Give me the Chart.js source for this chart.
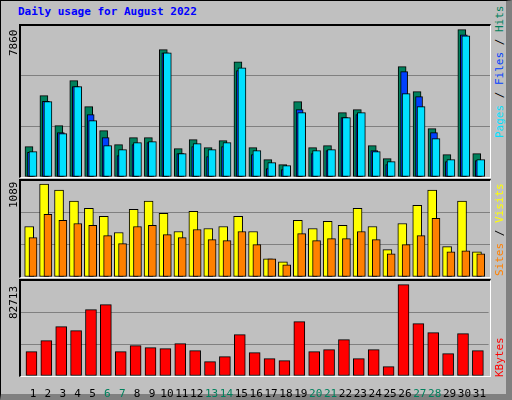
<!DOCTYPE html>
<html>
<head>
<meta charset="utf-8">
<script src="https://cdn.jsdelivr.net/npm/chart.js@4"></script>
<style>
  body { margin: 0; width: 512px; height: 400px; overflow: hidden; background: #c0c0c0; }
  #frame { position: absolute; left: 0; top: 0; width: 505px; height: 393px; background: #c0c0c0;
           border: 1px solid #000; border-right: 6px solid #808080; border-bottom: 6px solid #808080; }
  .abs { position: absolute; }
  .box { position: absolute; border-top: 2px solid #000; border-left: 2px solid #000;
         border-right: 1px solid #fff; border-bottom: 1px solid #fff; box-sizing: border-box; pointer-events: none; }
  .txt { position: absolute; font-family: "DejaVu Sans Mono", monospace; font-size: 11px; white-space: nowrap; }
  .rot { transform-origin: left top; transform: rotate(-90deg); }
</style>
</head>
<body>
<div id="frame"></div>
<div class="txt" style="left:18px;top:5px;color:#0000ff;font-weight:bold;">Daily usage for August 2022</div>

<canvas id="c1" class="abs" style="left:20px;top:25px;width:470px;height:152px"></canvas>
<canvas id="c2" class="abs" style="left:20px;top:180px;width:470px;height:97px"></canvas>
<canvas id="c3" class="abs" style="left:20px;top:280px;width:470px;height:118px"></canvas>
<div class="box" style="left:19px;top:24px;width:472px;height:154px"></div>
<div class="box" style="left:19px;top:179px;width:472px;height:99px"></div>
<div class="box" style="left:19px;top:279px;width:472px;height:98px"></div>

<div class="txt rot" style="left:7px;top:56px">7860</div>
<div class="txt rot" style="left:7px;top:208px">1089</div>
<div class="txt rot" style="left:7px;top:319px">82713</div>

<div class="txt rot" style="left:493px;top:138px"><span style="color:#00e0ff">Pages</span> / <span style="color:#0040ff">Files</span> / <span style="color:#00805c">Hits</span></div>
<div class="txt rot" style="left:493px;top:276px"><span style="color:#ff8000">Sites</span> / <span style="color:#ffff00">Visits</span></div>
<div class="txt rot" style="left:493px;top:377px"><span style="color:#ff0000">KBytes</span></div>

<script>
const days = Array.from({ length: 31 }, (_, i) => i + 1);
const weekendDays = [6, 7, 13, 14, 20, 21, 27, 28];

const hits  = [1618, 4339, 2738, 5139, 3752, 2472, 1725, 2098, 2098, 6793, 1511, 1991, 1565, 1938, 6152, 1565,
               925, 658, 4019, 1565, 1671, 3432, 3592, 1671, 978, 5886, 4552, 2578, 1191, 7860, 1245];
const files = [1316, 4036, 2365, 4819, 3325, 2098, 1138, 1725, 1831, 6632, 1245, 1618, 1085, 1618, 5672, 1191,
               445, 391, 3592, 1245, 1405, 3165, 3325, 1405, 658, 5619, 4285, 2365, 818, 7592, 871];
const pages = [1351, 4019, 2312, 4819, 3005, 1671, 1458, 1831, 1885, 6632, 1245, 1778, 1458, 1831, 5832, 1405,
               765, 605, 3432, 1405, 1458, 3165, 3432, 1351, 818, 4445, 3752, 2045, 925, 7539, 925];
const visits = [592, 1089, 1018, 888, 805, 710, 521, 793, 888, 746, 533, 769, 568, 592, 710, 533,
                213, 178, 663, 568, 651, 604, 805, 592, 320, 627, 840, 1018, 355, 888, 296];
const sites  = [462, 734, 663, 627, 604, 485, 391, 592, 604, 497, 462, 556, 438, 426, 533, 379,
                213, 142, 509, 426, 450, 450, 533, 438, 272, 379, 485, 687, 296, 308, 272];
const kbytes = [22038, 32000, 44680, 41058, 60077, 64600, 22038, 27473, 25660, 24755, 29283, 22943, 12981, 17509,
                37435, 21132, 15698, 13887, 49208, 22038, 23849, 32906, 15698, 23849, 8453, 82713, 47397, 39246,
                20227, 38340, 22943];

const xMin = 0.13, xMax = 31.62;
const dayPx = 470 / (xMax - xMin);

function series(values, offsetPx) {
  return values.map((v, i) => ({ x: days[i] + offsetPx / dayPx, y: v }));
}

function bar(label, values, offsetPx, width, color, order) {
  return {
    label: label,
    data: series(values, offsetPx),
    backgroundColor: color,
    borderColor: '#000',
    borderWidth: 1,
    borderSkipped: false,
    barThickness: width,
    grouped: false,
    order: order,
  };
}

function panel(id, datasets, yMax, showX) {
  new Chart(document.getElementById(id), {
    type: 'bar',
    data: { datasets: datasets },
    options: {
      responsive: false,
      animation: false,
      events: [],
      layout: { padding: 0 },
      plugins: { legend: { display: false }, tooltip: { enabled: false } },
      scales: {
        x: {
          type: 'linear', min: xMin, max: xMax, offset: false,
          display: showX,
          grid: { display: false },
          border: { display: false },
          afterFit: s => { s.height = showX ? 22 : 0; },
          afterBuildTicks: s => { s.ticks = days.map(d => ({ value: d })); },
          ticks: {
            autoSkip: false, maxRotation: 0, padding: 4,
            font: { family: 'DejaVu Sans Mono', size: 11 },
            color: c => weekendDays.includes(c.tick.value) ? '#00805c' : '#000',
          },
        },
        y: {
          min: 0, max: yMax,
          afterFit: s => { s.width = 0; },
          ticks: { display: false, stepSize: yMax / 3 },
          grid: { color: '#808080', lineWidth: 1, drawTicks: false },
          border: { display: false },
        },
      },
    },
  });
}

function sizeCanvas(id) {
  const c = document.getElementById(id);
  c.width = parseInt(c.style.width); c.height = parseInt(c.style.height);
}
['c1', 'c2', 'c3'].forEach(sizeCanvas);

panel('c1', [
  bar('Hits', hits, -4, 8, '#00805c', 2),
  bar('Files', files, -2, 7, '#0040ff', 1),
  bar('Pages', pages, 0, 8, '#00e0ff', 0),
], 7860 * 152 / 147.3, false);

panel('c2', [
  bar('Visits', visits, -3.8, 9, '#ffff00', 1),
  bar('Sites', sites, 0, 8, '#ff8000', 0),
], 1089 * 96 / 92, false);

panel('c3', [
  bar('KBytes', kbytes, -1.5, 11, '#ff0000', 0),
], 82713 * 96 / 91.3, true);
</script>
</body>
</html>
